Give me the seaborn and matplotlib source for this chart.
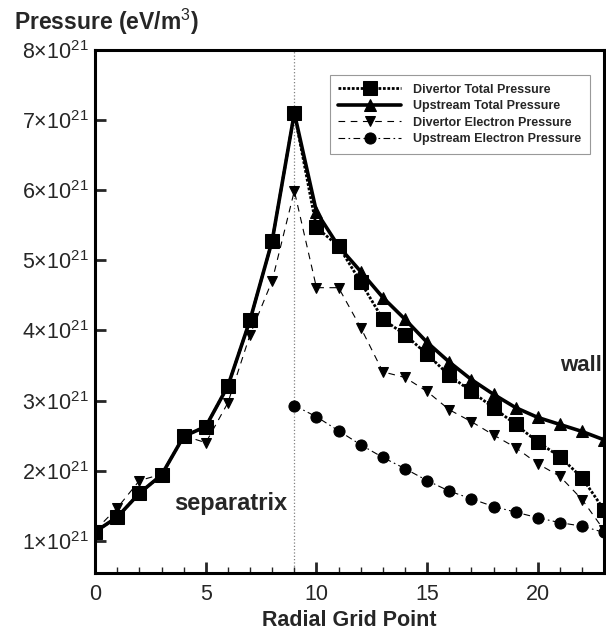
import numpy as np
import pandas as pd
import matplotlib
matplotlib.use('Agg')
import matplotlib.pyplot as plt
import seaborn as sns
from matplotlib.ticker import MultipleLocator, FuncFormatter

# radial grid points
grid = list(range(24))

# pressures in units of 1e21 eV/m^3
divertor_total = [1.13, 1.34, 1.68, 1.94, 2.49, 2.63, 3.21, 4.15, 5.28, 7.10,
                  5.47, 5.20, 4.69, 4.16, 3.94, 3.66, 3.36, 3.13, 2.90, 2.66,
                  2.41, 2.20, 1.90, 1.44]
upstream_total = [1.13, 1.34, 1.68, 1.94, 2.49, 2.63, 3.21, 4.15, 5.28, 7.10,
                  5.69, 5.20, 4.84, 4.47, 4.16, 3.83, 3.55, 3.30, 3.09, 2.90,
                  2.76, 2.66, 2.56, 2.44]
divertor_electron = [1.15, 1.47, 1.86, 1.95, 2.50, 2.40, 2.97, 3.94, 4.71, 5.99,
                     4.61, 4.61, 4.04, 3.41, 3.33, 3.13, 2.87, 2.70, 2.51, 2.33,
                     2.10, 1.92, 1.59, 1.15]
upstream_electron = [np.nan] * 9 + [2.93, 2.77, 2.57, 2.37, 2.19, 2.03, 1.86,
                                    1.71, 1.60, 1.49, 1.41, 1.33, 1.26, 1.21, 1.12]

labels = ['Divertor Total Pressure', 'Upstream Total Pressure',
          'Divertor Electron Pressure', 'Upstream Electron Pressure']

df = pd.DataFrame({'grid': grid,
                   labels[0]: divertor_total,
                   labels[1]: upstream_total,
                   labels[2]: divertor_electron,
                   labels[3]: upstream_electron})

sns.set_style('white')
plt.rcParams['font.family'] = ['Liberation Sans', 'DejaVu Sans']
plt.rcParams['mathtext.fontset'] = 'custom'
plt.rcParams['mathtext.rm'] = 'Liberation Sans'
plt.rcParams['mathtext.it'] = 'Liberation Sans'
plt.rcParams['mathtext.bf'] = 'Liberation Sans:bold'

fig = plt.figure(figsize=(6.06, 6.4), dpi=100)
ax = fig.add_axes([0.157, 0.105, 0.84, 0.817])

ax.axvline(9, color='gray', linestyle=':', linewidth=0.9, zorder=0)

sns.lineplot(data=df, x='grid', y=labels[0], ax=ax, color='black',
             linestyle=(0, (1, 0.6)), linewidth=2, marker='s', markersize=10,
             markeredgecolor='black', label=labels[0])
sns.lineplot(data=df, x='grid', y=labels[1], ax=ax, color='black',
             linestyle='-', linewidth=2.6, marker='^', markersize=9,
             markeredgecolor='black', label=labels[1])
sns.lineplot(data=df, x='grid', y=labels[2], ax=ax, color='black',
             linestyle=(0, (6, 5)), linewidth=0.8, marker='v', markersize=7,
             markeredgecolor='black', label=labels[2])
sns.lineplot(data=df, x='grid', y=labels[3], ax=ax, color='black',
             linestyle=(0, (6, 3, 1.5, 3)), linewidth=0.8, marker='o', markersize=8,
             markeredgecolor='black', label=labels[3])

ax.set_xlim(0, 23)
ax.set_ylim(0.545, 8)
ax.xaxis.set_major_locator(MultipleLocator(5))
ax.xaxis.set_minor_locator(MultipleLocator(1))
ax.yaxis.set_major_locator(MultipleLocator(1))
ax.yaxis.set_major_formatter(FuncFormatter(
    lambda v, p: '$%d{\\times}10^{21}$' % int(round(v))))

ax.tick_params(which='major', direction='in', length=8, width=2, labelsize=15.5,
               bottom=True, left=True)
ax.tick_params(axis='x', which='major', pad=8)
ax.tick_params(axis='y', which='major', pad=5)
ax.tick_params(which='minor', direction='in', length=4, width=1, bottom=True)
for s in ax.spines.values():
    s.set_linewidth(2.2)
    s.set_color('black')

ax.set_xlabel('Radial Grid Point', fontsize=15.5, fontweight='bold', labelpad=4)
ax.set_ylabel('')
fig.text(0.023, 0.965, 'Pressure (eV/m$^{3}$)', fontsize=16.5, fontweight='bold',
         ha='left', va='center')

ax.text(8.7, 1.54, 'separatrix', fontsize=17, fontweight='bold', ha='right', va='center')
ax.text(22.9, 3.5, 'wall', fontsize=16, fontweight='bold', ha='right', va='center')

leg = ax.legend(loc='upper right', bbox_to_anchor=(0.9725, 0.952), frameon=True,
                fancybox=False, edgecolor='gray', handlelength=5,
                prop={'size': 9, 'weight': 'bold'}, labelspacing=0.35,
                borderpad=0.7, handletextpad=1.0, borderaxespad=0)
leg.get_frame().set_linewidth(0.8)

fig.savefig('out.png', dpi=100)
